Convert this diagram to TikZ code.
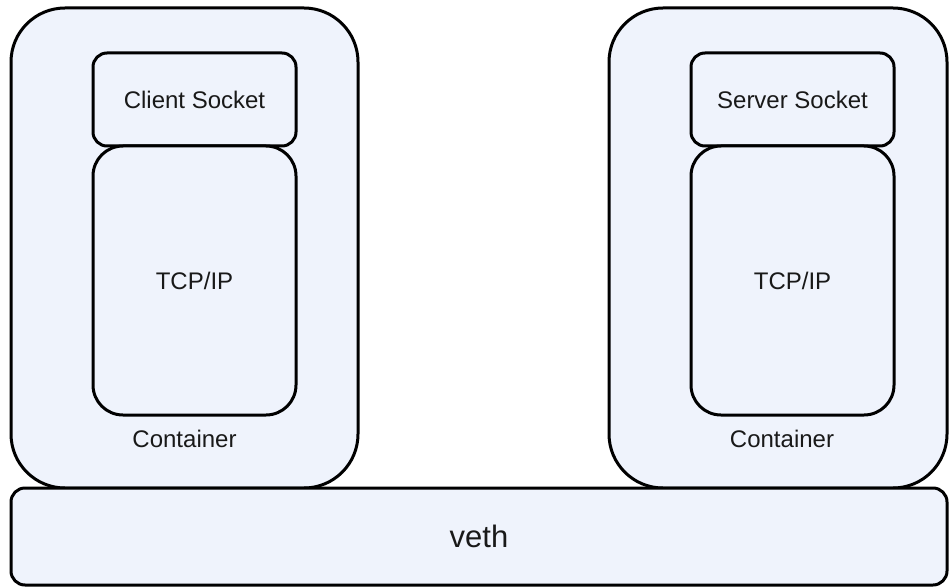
\documentclass[tikz,border=0pt]{standalone}
\usepackage{fontspec}
\setmainfont{Liberation Sans}
\definecolor{panel}{RGB}{239,243,252}
\tikzset{
  blk/.style={draw=black, fill=panel, line width=3pt, inner sep=0pt, outer sep=0pt},
  lbl/.style={font=\fontsize{24}{28}\selectfont, inner sep=0pt, text=black!90},
}
\begin{document}
\begin{tikzpicture}[x=1pt, y=-1pt]
  \useasboundingbox (0,0) rectangle (949,588);

  % containers
  \node[blk, minimum width=347pt, minimum height=480pt, rounded corners=54pt] (lcont) at (184.5,248) {};
  \node[blk, minimum width=338pt, minimum height=480pt, rounded corners=54pt] (rcont) at (778,248) {};

  % shared veth bar
  \node[blk, minimum width=936pt, minimum height=97pt, rounded corners=14pt] (veth) at (479,536.5) {};
  \node[lbl, font=\fontsize{31}{36}\selectfont] (vethlbl) at (veth.center) {veth};

  % client side
  \node[blk, minimum width=203pt, minimum height=93pt, rounded corners=14pt] (csock) at (194.5,99.5) {};
  \node[lbl] (csocklbl) at (csock.center) {Client Socket};
  \node[blk, minimum width=203pt, minimum height=269pt, rounded corners=30pt] (ctcp) at (194.5,280.5) {};
  \node[lbl] (ctcplbl) at (ctcp.center) {TCP/IP};
  \node[lbl] (lcontlbl) at (184.5,439) {Container};

  % server side
  \node[blk, minimum width=203pt, minimum height=93pt, rounded corners=14pt] (ssock) at (792.5,99.5) {};
  \node[lbl] (ssocklbl) at (ssock.center) {Server Socket};
  \node[blk, minimum width=203pt, minimum height=269pt, rounded corners=30pt] (stcp) at (792.5,280.5) {};
  \node[lbl] (stcplbl) at (stcp.center) {TCP/IP};
  \node[lbl] (rcontlbl) at (782,439) {Container};
\end{tikzpicture}
\end{document}
